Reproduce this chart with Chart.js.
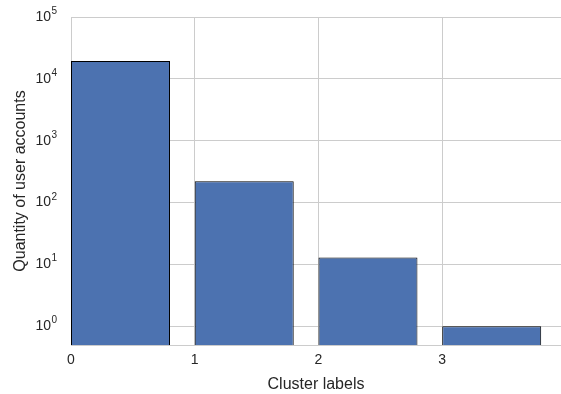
<!DOCTYPE html>
<html>
<head>
<meta charset="utf-8">
<script src="https://cdn.jsdelivr.net/npm/chart.js@4"></script>
<style>
  body { margin: 0; background: #fff; }
  canvas { display: block; }
</style>
</head>
<body>
<canvas id="chart" width="561" height="394"></canvas>
<script>
// cluster labels and number of accounts per cluster
const clusterLabels = [0, 1, 2, 3];
const accountCounts = [19500, 221, 13, 1];
const yTickValues = [1, 10, 100, 1000, 10000, 100000];
const yTickExponents = ['0', '1', '2', '3', '4', '5'];

const textColor = '#262626';
const gridColor = '#cccccc';
const fontFamily = '"Liberation Sans", Arial, sans-serif';

// bars start at the label and are 0.8 wide, so the centre is label + 0.4
const barPoints = clusterLabels.map((c, i) => ({ x: c + 0.4, y: accountCounts[i] }));

// draws "10" with a raised exponent next to each y grid line
const powerLabels = {
  id: 'powerLabels',
  afterDraw(chart) {
    const ctx = chart.ctx;
    const scale = chart.scales.y;
    ctx.save();
    ctx.fillStyle = textColor;
    yTickValues.forEach((v, i) => {
      const y = scale.getPixelForValue(v);
      ctx.font = '14px ' + fontFamily;
      ctx.textAlign = 'right';
      ctx.textBaseline = 'middle';
      ctx.fillText('10', 51, y);
      ctx.font = '10px ' + fontFamily;
      ctx.textAlign = 'left';
      ctx.textBaseline = 'alphabetic';
      ctx.fillText(yTickExponents[i], 51.5, y - 3);
    });
    ctx.restore();
  }
};

new Chart(document.getElementById('chart'), {
  type: 'bar',
  data: {
    datasets: [{
      data: barPoints,
      backgroundColor: '#4c72b0',
      borderColor: '#000000',
      borderWidth: 1,
      borderSkipped: 'bottom',
      barPercentage: 0.8,
      categoryPercentage: 1.0
    }]
  },
  options: {
    responsive: false,
    devicePixelRatio: 1,
    animation: false,
    layout: { padding: { top: 17, right: 0, left: 0, bottom: 0 } },
    plugins: {
      legend: { display: false },
      tooltip: { enabled: false }
    },
    scales: {
      x: {
        type: 'linear',
        offset: false,
        min: 0,
        max: 3.96,
        afterBuildTicks: scale => { scale.ticks = clusterLabels.map(v => ({ value: v })); },
        afterFit: scale => { scale.height = 49; },
        ticks: {
          color: textColor,
          font: { size: 14, family: fontFamily },
          padding: 7,
          maxRotation: 0,
          callback: v => String(v)
        },
        grid: { offset: false, color: gridColor, lineWidth: 1, drawTicks: false },
        border: { display: true, color: gridColor },
        title: {
          display: true,
          text: 'Cluster labels',
          color: textColor,
          font: { size: 16, family: fontFamily },
          padding: { top: 0, bottom: 0 }
        }
      },
      y: {
        type: 'logarithmic',
        min: 0.5,
        max: 100000,
        afterBuildTicks: scale => { scale.ticks = yTickValues.map(v => ({ value: v })); },
        afterFit: scale => { scale.width = 71; },
        ticks: { display: false },
        grid: { color: gridColor, lineWidth: 1, drawTicks: false },
        border: { display: true, color: gridColor },
        title: {
          display: true,
          text: 'Quantity of user accounts',
          color: textColor,
          font: { size: 16, family: fontFamily },
          padding: { top: 11, bottom: 11 }
        }
      }
    }
  },
  plugins: [powerLabels]
});
</script>
</body>
</html>
